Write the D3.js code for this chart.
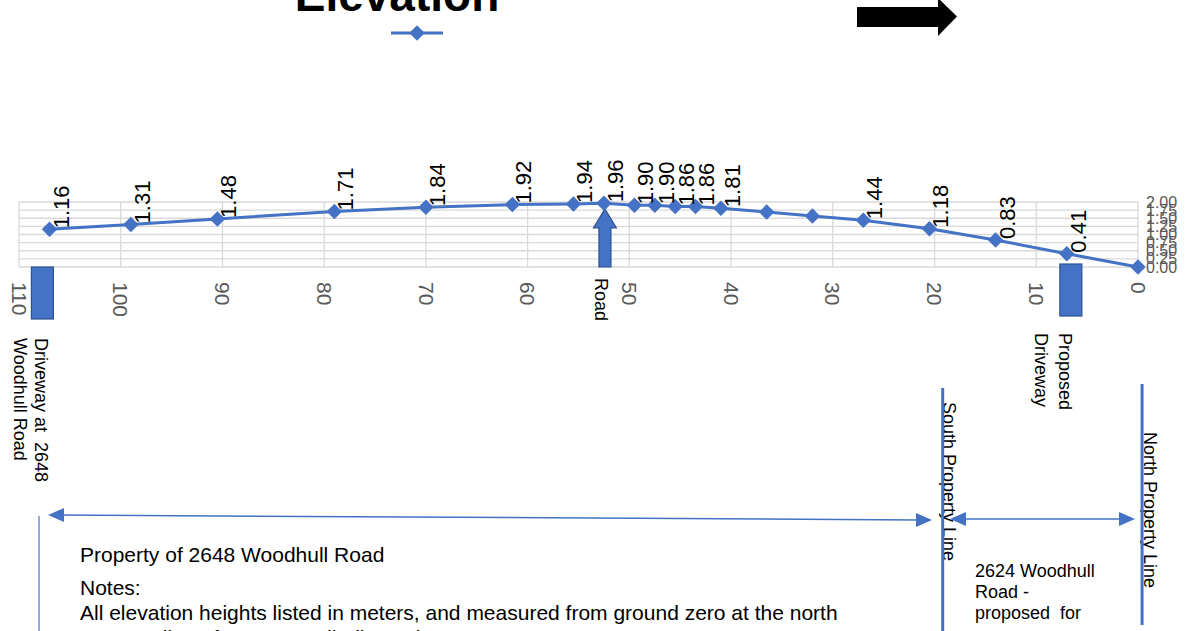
<!DOCTYPE html>
<html>
<head>
<meta charset="utf-8">
<script src="https://cdn.jsdelivr.net/npm/d3@7"></script>
<style>
  html, body { margin: 0; padding: 0; background: #fff; overflow: hidden; }
  svg { display: block; font-family: "Liberation Sans", Arial, sans-serif; }
</style>
</head>
<body>
<svg id="chart" width="1191" height="631"></svg>
<script>
// Distance from the north property line (m) and ground elevation (m)
const distances  = [107, 99, 90.5, 79, 70, 61.5, 55.5, 52.5, 49.5, 47.5, 45.5, 43.5, 41, 36.5, 32, 27, 20.5, 14, 7, 0];
const elevations = [1.16, 1.31, 1.48, 1.71, 1.84, 1.92, 1.94, 1.96, 1.90, 1.90, 1.86, 1.86, 1.81, 1.69, 1.57, 1.44, 1.18, 0.83, 0.41, 0.00];
const showLabel  = [1, 1, 1, 1, 1, 1, 1, 1, 1, 1, 1, 1, 1, 0, 0, 1, 1, 1, 1, 0];
const xTicks = [110, 100, 90, 80, 70, 60, 50, 40, 30, 20, 10, 0];
const yTicks = [0, 0.25, 0.5, 0.75, 1, 1.25, 1.5, 1.75, 2];

// Site features along the same distance axis
const roadAt = 52.4;
const drivewaysAt = [107.7, 6.6];
const southLineAt = 19.2;
const northLineAt = -0.4;

const blue = "#4472C4", blueDark = "#2F528F", grid = "#D9D9D9", axisGray = "#595959";

const svg = d3.select("#chart");
const x = d3.scaleLinear().domain([110, 0]).range([19, 1138]);
const y = d3.scaleLinear().domain([0, 2]).range([267, 202]);

const data = distances.map((d, i) => ({ d, v: elevations[i], show: showLabel[i] }));

// Title (runs off the top edge)
svg.append("text").attr("x", 397).attr("y", 11).attr("text-anchor", "middle")
  .attr("font-size", 46).attr("font-weight", "bold").attr("fill", "#000").text("Elevation");

// Legend
svg.append("line").attr("x1", 391).attr("x2", 443).attr("y1", 33).attr("y2", 33)
  .attr("stroke", blue).attr("stroke-width", 3);
const diamond = d3.symbol().type(d3.symbolSquare).size(120);
svg.append("path").attr("d", diamond()).attr("fill", blue)
  .attr("transform", "translate(417,33) rotate(45)");

// Direction arrow
svg.append("path").attr("fill", "#000")
  .attr("d", "M857,7 L938,7 L938,-2 L957,16.5 L938,36 L938,27 L857,27 Z");

// Gridlines
const g = svg.append("g");
g.selectAll(".hg").data(yTicks).join("line")
  .attr("x1", x(110)).attr("x2", x(0)).attr("y1", d => y(d)).attr("y2", d => y(d))
  .attr("stroke", grid).attr("stroke-width", 1.3);
g.selectAll(".vg").data(xTicks).join("line")
  .attr("x1", d => x(d)).attr("x2", d => x(d)).attr("y1", y(0)).attr("y2", y(2))
  .attr("stroke", grid).attr("stroke-width", 1.3);

// Value axis labels on the right
g.selectAll(".yl").data(yTicks).join("text")
  .attr("x", 1146).attr("y", d => y(d)).attr("dy", "0.35em")
  .attr("font-size", 16).attr("fill", axisGray).text(d => d3.format(".2f")(d));

// Distance axis labels, rotated
g.selectAll(".xl").data(xTicks).join("text")
  .attr("transform", d => `translate(${x(d)},282) rotate(90)`)
  .attr("dy", "0.35em").attr("font-size", 21).attr("fill", axisGray).text(d => d);

// Driveway blocks
svg.selectAll(".drv").data(drivewaysAt).join("rect")
  .attr("x", d => x(d) - 11).attr("y", (d, i) => i === 0 ? 267 : 264)
  .attr("width", 22).attr("height", 52)
  .attr("fill", blue).attr("stroke", blueDark).attr("stroke-width", 1.2);

// Road arrow
{
  const cx = x(roadAt), tip = 209, base = y(0);
  svg.append("path").attr("fill", blue).attr("stroke", blueDark).attr("stroke-width", 1.2)
    .attr("d", `M${cx},${tip} L${cx + 11.5},${tip + 19} L${cx + 6},${tip + 19} L${cx + 6},${base} L${cx - 6},${base} L${cx - 6},${tip + 19} L${cx - 11.5},${tip + 19} Z`);
  svg.append("text").attr("transform", `translate(${cx - 4},278) rotate(90)`)
    .attr("dy", "0.35em").attr("font-size", 18).attr("fill", "#000").text("Road");
}

// Elevation line and markers
svg.append("path").datum(data)
  .attr("d", d3.line().x(d => x(d.d)).y(d => y(d.v)))
  .attr("fill", "none").attr("stroke", blue).attr("stroke-width", 3);
svg.selectAll(".mk").data(data).join("path")
  .attr("d", diamond()).attr("fill", blue)
  .attr("transform", d => `translate(${x(d.d)},${y(d.v)}) rotate(45)`);

// Data labels, rotated to read upward
svg.selectAll(".dl").data(data.filter(d => d.show)).join("text")
  .attr("transform", d => `translate(${x(d.d) + 19},${y(d.v) - 1}) rotate(-90)`)
  .attr("font-size", 22).attr("fill", "#000").text(d => d.v.toFixed(2));

// Feature annotations
function vText(lines, cx0, top, size, step) {
  lines.forEach((t, i) => {
    svg.append("text").attr("transform", `translate(${cx0 - i * step},${top}) rotate(90)`)
      .attr("dy", "0.35em").attr("font-size", size).attr("fill", "#000")
      .style("white-space", "pre").text(t);
  });
}
vText(["Driveway at  2648", "Woodhull Road"], 41.5, 338, 18, 21);
vText(["Proposed", "Driveway"], 1065, 333, 18, 24);
vText(["South Property Line"], 949, 402, 18, 0);
vText(["North Property Line"], 1150, 432, 18, 0);

// Property lines
svg.append("line").attr("x1", x(southLineAt)).attr("x2", x(southLineAt)).attr("y1", 388).attr("y2", 631)
  .attr("stroke", blue).attr("stroke-width", 3);
svg.append("line").attr("x1", x(northLineAt)).attr("x2", x(northLineAt)).attr("y1", 384).attr("y2", 625)
  .attr("stroke", blue).attr("stroke-width", 3);
svg.append("line").attr("x1", 39).attr("x2", 39).attr("y1", 516).attr("y2", 631)
  .attr("stroke", blue).attr("stroke-width", 1.2);

// Extent arrows
function arrowHead(tx, ty, dir, len, half) {
  svg.append("path").attr("fill", blue)
    .attr("d", `M${tx},${ty} L${tx - dir * len},${ty - half} L${tx - dir * len},${ty + half} Z`);
}
svg.append("line").attr("x1", 60).attr("y1", 515).attr("x2", 918).attr("y2", 520)
  .attr("stroke", blue).attr("stroke-width", 1.5);
arrowHead(48, 515, -1, 16, 7);
arrowHead(932, 520, 1, 16, 7);
svg.append("line").attr("x1", 962).attr("y1", 519).attr("x2", 1122).attr("y2", 519)
  .attr("stroke", blue).attr("stroke-width", 1.5);
arrowHead(950, 519, -1, 16, 7);
arrowHead(1135, 519, 1, 16, 7);

// Notes
const notes = [
  ["Property of 2648 Woodhull Road", 562],
  ["Notes:", 595],
  ["All elevation heights listed in meters, and measured from ground zero at the north", 620],
  ["property line of 2624 Woodhull Road.", 645]
];
notes.forEach(([t, yy]) => svg.append("text").attr("x", 80).attr("y", yy)
  .attr("font-size", 21).attr("fill", "#000").text(t));
[["2624 Woodhull", 577], ["Road -", 598], ["proposed  for", 619]].forEach(([t, yy]) =>
  svg.append("text").attr("x", 975).attr("y", yy).attr("font-size", 18).attr("fill", "#000")
    .style("white-space", "pre").text(t));
</script>
</body>
</html>
